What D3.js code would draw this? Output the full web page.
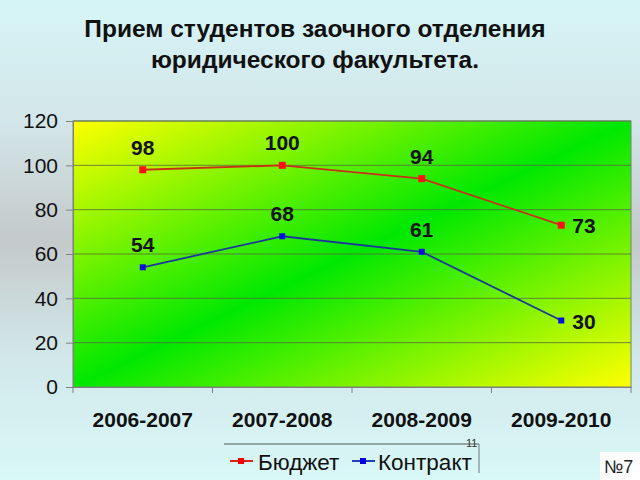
<!DOCTYPE html>
<html><head><meta charset="utf-8">
<script src="https://cdn.jsdelivr.net/npm/d3@7"></script>
<style>html,body{margin:0;padding:0;overflow:hidden}svg{display:block}</style>
</head><body>
<script>
const categories = ["2006-2007","2007-2008","2008-2009","2009-2010"];
const budget = [98,100,94,73];
const contract = [54,68,61,30];
const yTicks = [0,20,40,60,80,100,120];
const seriesNames = ["Бюджет","Контракт"];
const titleLines = ["Прием студентов заочного отделения","юридического факультета."];

const W=640,H=480;
const svg=d3.select("body").append("svg").attr("width",W).attr("height",H);
const defs=svg.append("defs");
const bg=defs.append("linearGradient").attr("id","bg").attr("x1",0).attr("y1",0).attr("x2",0).attr("y2",1);
bg.append("stop").attr("offset","0%").attr("stop-color","#d6f5f7");
bg.append("stop").attr("offset","25%").attr("stop-color","#d3e6e9");
bg.append("stop").attr("offset","50%").attr("stop-color","#c4c9ca");
bg.append("stop").attr("offset","75%").attr("stop-color","#d2e8ea");
bg.append("stop").attr("offset","100%").attr("stop-color","#d9f8f8");
const pg=defs.append("linearGradient").attr("id","pg").attr("x1",0).attr("y1",0).attr("x2",1).attr("y2",1);
pg.append("stop").attr("offset","0%").attr("stop-color","#ffff00");
pg.append("stop").attr("offset","50%").attr("stop-color","#00e800");
pg.append("stop").attr("offset","100%").attr("stop-color","#ffff00");

svg.append("rect").attr("width",W).attr("height",H).attr("fill","url(#bg)");

const FONT="'Liberation Sans', Arial, sans-serif";
svg.append("g").selectAll("text").data(titleLines).join("text")
  .attr("x",315).attr("y",(d,i)=>37+i*31).attr("text-anchor","middle")
  .attr("font-family",FONT).attr("font-weight","bold").attr("font-size",24.5).attr("fill","#111")
  .text(d=>d);

const L=73,R=631,T=121,B=387;
const x=d3.scaleBand().domain(categories).range([L,R]);
const y=d3.scaleLinear().domain([0,120]).range([B,T]);

svg.append("rect").attr("x",L).attr("y",T).attr("width",R-L).attr("height",B-T)
  .attr("fill","url(#pg)").attr("stroke","#6a8a6a").attr("stroke-width",1);

svg.append("g").selectAll("line").data(yTicks.filter(v=>v>0)).join("line")
  .attr("x1",L).attr("x2",R).attr("y1",d=>y(d)).attr("y2",d=>y(d))
  .attr("stroke","#5a6a40").attr("stroke-width",1).attr("opacity",0.8);

const ya=svg.append("g").attr("transform",`translate(${L},0)`)
  .call(d3.axisLeft(y).tickValues(yTicks).tickSize(7).tickPadding(8));
ya.select(".domain").attr("stroke","#808080");
ya.selectAll(".tick line").attr("stroke","#808080");
ya.selectAll("text").attr("font-family",FONT).attr("font-size",21).attr("fill","#111");

const xa=svg.append("g").attr("transform",`translate(0,${B})`)
  .call(d3.axisBottom(x).tickSize(0).tickPadding(25));
xa.select(".domain").attr("stroke","#808080");
xa.selectAll("text").attr("font-family",FONT).attr("font-size",21).attr("font-weight","bold").attr("fill","#111");
svg.append("g").selectAll("line").data(categories.concat(["end"])).join("line")
  .attr("x1",(d,i)=>L+i*x.step()).attr("x2",(d,i)=>L+i*x.step())
  .attr("y1",B).attr("y2",B+6).attr("stroke","#808080");

const cx=d=>x(d)+x.bandwidth()/2;
const line=d3.line().x((d,i)=>cx(categories[i])).y(d=>y(d));

function series(vals,lineColor,markColor,size){
  svg.append("path").datum(vals).attr("d",line).attr("fill","none")
    .attr("stroke",lineColor).attr("stroke-width",1.8);
  svg.append("g").selectAll("rect").data(vals).join("rect")
    .attr("x",(d,i)=>cx(categories[i])-size/2).attr("y",d=>y(d)-size/2)
    .attr("width",size).attr("height",size).attr("fill",markColor);
  svg.append("g").selectAll("text").data(vals).join("text")
    .attr("x",(d,i)=>i===vals.length-1?cx(categories[i])+11:cx(categories[i]))
    .attr("y",(d,i)=>i===vals.length-1?y(d)+8:y(d)-15)
    .attr("text-anchor",(d,i)=>i===vals.length-1?"start":"middle")
    .attr("font-family",FONT).attr("font-size",21).attr("font-weight","bold").attr("fill","#111")
    .text(d=>d);
}
series(budget,"#c83214","#ff1010",7);
series(contract,"#1a3a9a","#0010e0",6);

const lg=svg.append("g");
lg.append("line").attr("x1",224).attr("x2",479).attr("y1",444).attr("y2",444).attr("stroke","#7d8c8c").attr("stroke-width",1.5);
lg.append("line").attr("x1",479).attr("x2",479).attr("y1",444).attr("y2",473).attr("stroke","#7d8c8c").attr("stroke-width",1.2);
const items=[{name:seriesNames[0],lc:"#e02020",mc:"#ff0000",x0:230,tx:258},{name:seriesNames[1],lc:"#2040c0",mc:"#0000e0",x0:352,tx:378}];
items.forEach(it=>{
  lg.append("line").attr("x1",it.x0).attr("x2",it.x0+23).attr("y1",461).attr("y2",461).attr("stroke",it.lc).attr("stroke-width",2);
  lg.append("rect").attr("x",it.x0+8).attr("y",458).attr("width",6).attr("height",6).attr("fill",it.mc);
  lg.append("text").attr("x",it.tx).attr("y",470).attr("font-family",FONT).attr("font-size",22.5).attr("fill","#111").text(it.name);
});
svg.append("text").attr("x",466).attr("y",447).attr("font-family",FONT).attr("font-size",11).attr("fill","#333").text("11");

svg.append("rect").attr("x",600).attr("y",452).attr("width",40).attr("height",28).attr("fill","#ffffff");
svg.append("text").attr("x",604).attr("y",473).attr("font-family",FONT).attr("font-size",18).attr("fill","#222").text("№7");
</script>
</body></html>
